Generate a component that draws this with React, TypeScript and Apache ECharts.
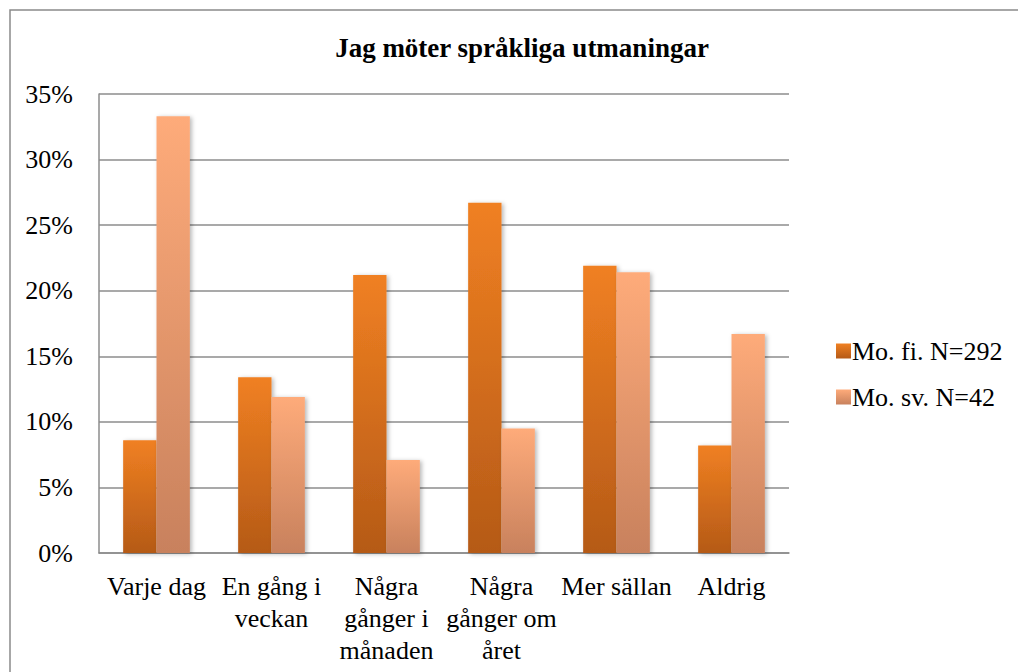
import React, { useEffect, useRef } from "react";
import * as echarts from "echarts";

const categories = ["Varje dag", "En gång i veckan", "Några gånger i månaden", "Några gånger om året", "Mer sällan", "Aldrig"];
const categoryLabels = ["Varje dag", "En gång i\nveckan", "Några\ngånger i\nmånaden", "Några\ngånger om\nåret", "Mer sällan", "Aldrig"];
const seriesNames = ["Mo. fi. N=292", "Mo. sv. N=42"];
const moFi = [8.6, 13.4, 21.2, 26.7, 21.9, 8.2];
const moSv = [33.3, 11.9, 7.1, 9.5, 21.4, 16.7];
const yTicks = { min: 0, max: 35, interval: 5 };
const title = "Jag möter språkliga utmaningar";

const FONT = "Liberation Serif";

export default function App() {
  const ref = useRef<HTMLDivElement>(null);
  useEffect(() => {
    document.body.style.margin = "0";
    if (!ref.current) return;
    const chart = echarts.init(ref.current, null, { renderer: "svg" });
    const grad = (top: string, bottom: string) =>
      new echarts.graphic.LinearGradient(0, 0, 0, 1, [
        { offset: 0, color: top },
        { offset: 1, color: bottom },
      ]);
    const shadow = {
      shadowColor: "rgba(0,0,0,0.28)",
      shadowBlur: 4,
      shadowOffsetX: 2,
      shadowOffsetY: 1,
    };
    chart.setOption({
      animation: false,
      backgroundColor: "#ffffff",
      textStyle: { fontFamily: FONT },
      title: {
        text: title,
        left: 517,
        textAlign: "center",
        top: 29,
        textStyle: { fontFamily: FONT, fontSize: 27, fontWeight: "bold", color: "#000" },
      },
      graphic: [
        {
          type: "rect",
          shape: { x: 10, y: 10, width: 1100, height: 800 },
          style: { fill: "none", stroke: "#8a8a8a", lineWidth: 1.5 },
          silent: true,
        },
      ],
      legend: {
        orient: "vertical",
        left: 831,
        top: 333,
        itemWidth: 15,
        itemHeight: 15,
        itemGap: 20,
        icon: "rect",
        textStyle: { fontFamily: FONT, fontSize: 26, color: "#000", lineHeight: 26, padding: [0, 0, 0, -4] },
        data: seriesNames,
      },
      grid: { left: 99, right: 229, top: 94, bottom: 119, containLabel: false },
      xAxis: {
        type: "category",
        data: categories,
        axisLine: { lineStyle: { color: "#8c8c8c", width: 1.5 } },
        axisTick: { show: false },
        axisLabel: {
          interval: 0,
          margin: 17,
          fontFamily: FONT,
          fontSize: 26,
          lineHeight: 32,
          color: "#000",
          formatter: (v: string) => categoryLabels[categories.indexOf(v)],
        },
      },
      yAxis: {
        type: "value",
        min: yTicks.min,
        max: yTicks.max,
        interval: yTicks.interval,
        axisLine: { show: true, lineStyle: { color: "#8c8c8c", width: 1.5 } },
        axisTick: { show: false },
        splitLine: { lineStyle: { color: "#8c8c8c", width: 1.5 } },
        axisLabel: {
          margin: 26,
          fontFamily: FONT,
          fontSize: 26,
          color: "#000",
          formatter: "{value}%",
        },
      },
      series: [
        {
          name: seriesNames[0],
          type: "bar",
          data: moFi,
          barGap: "0%",
          barCategoryGap: "42%",
          itemStyle: { color: grad("#F08022", "#B55A17"), ...shadow },
        },
        {
          name: seriesNames[1],
          type: "bar",
          data: moSv,
          barGap: "0%",
          barCategoryGap: "42%",
          itemStyle: { color: grad("#FEAB7A", "#C8815D"), ...shadow },
        },
      ],
    });
    return () => chart.dispose();
  }, []);
  return <div ref={ref} style={{ width: 1018, height: 672 }} />;
}
